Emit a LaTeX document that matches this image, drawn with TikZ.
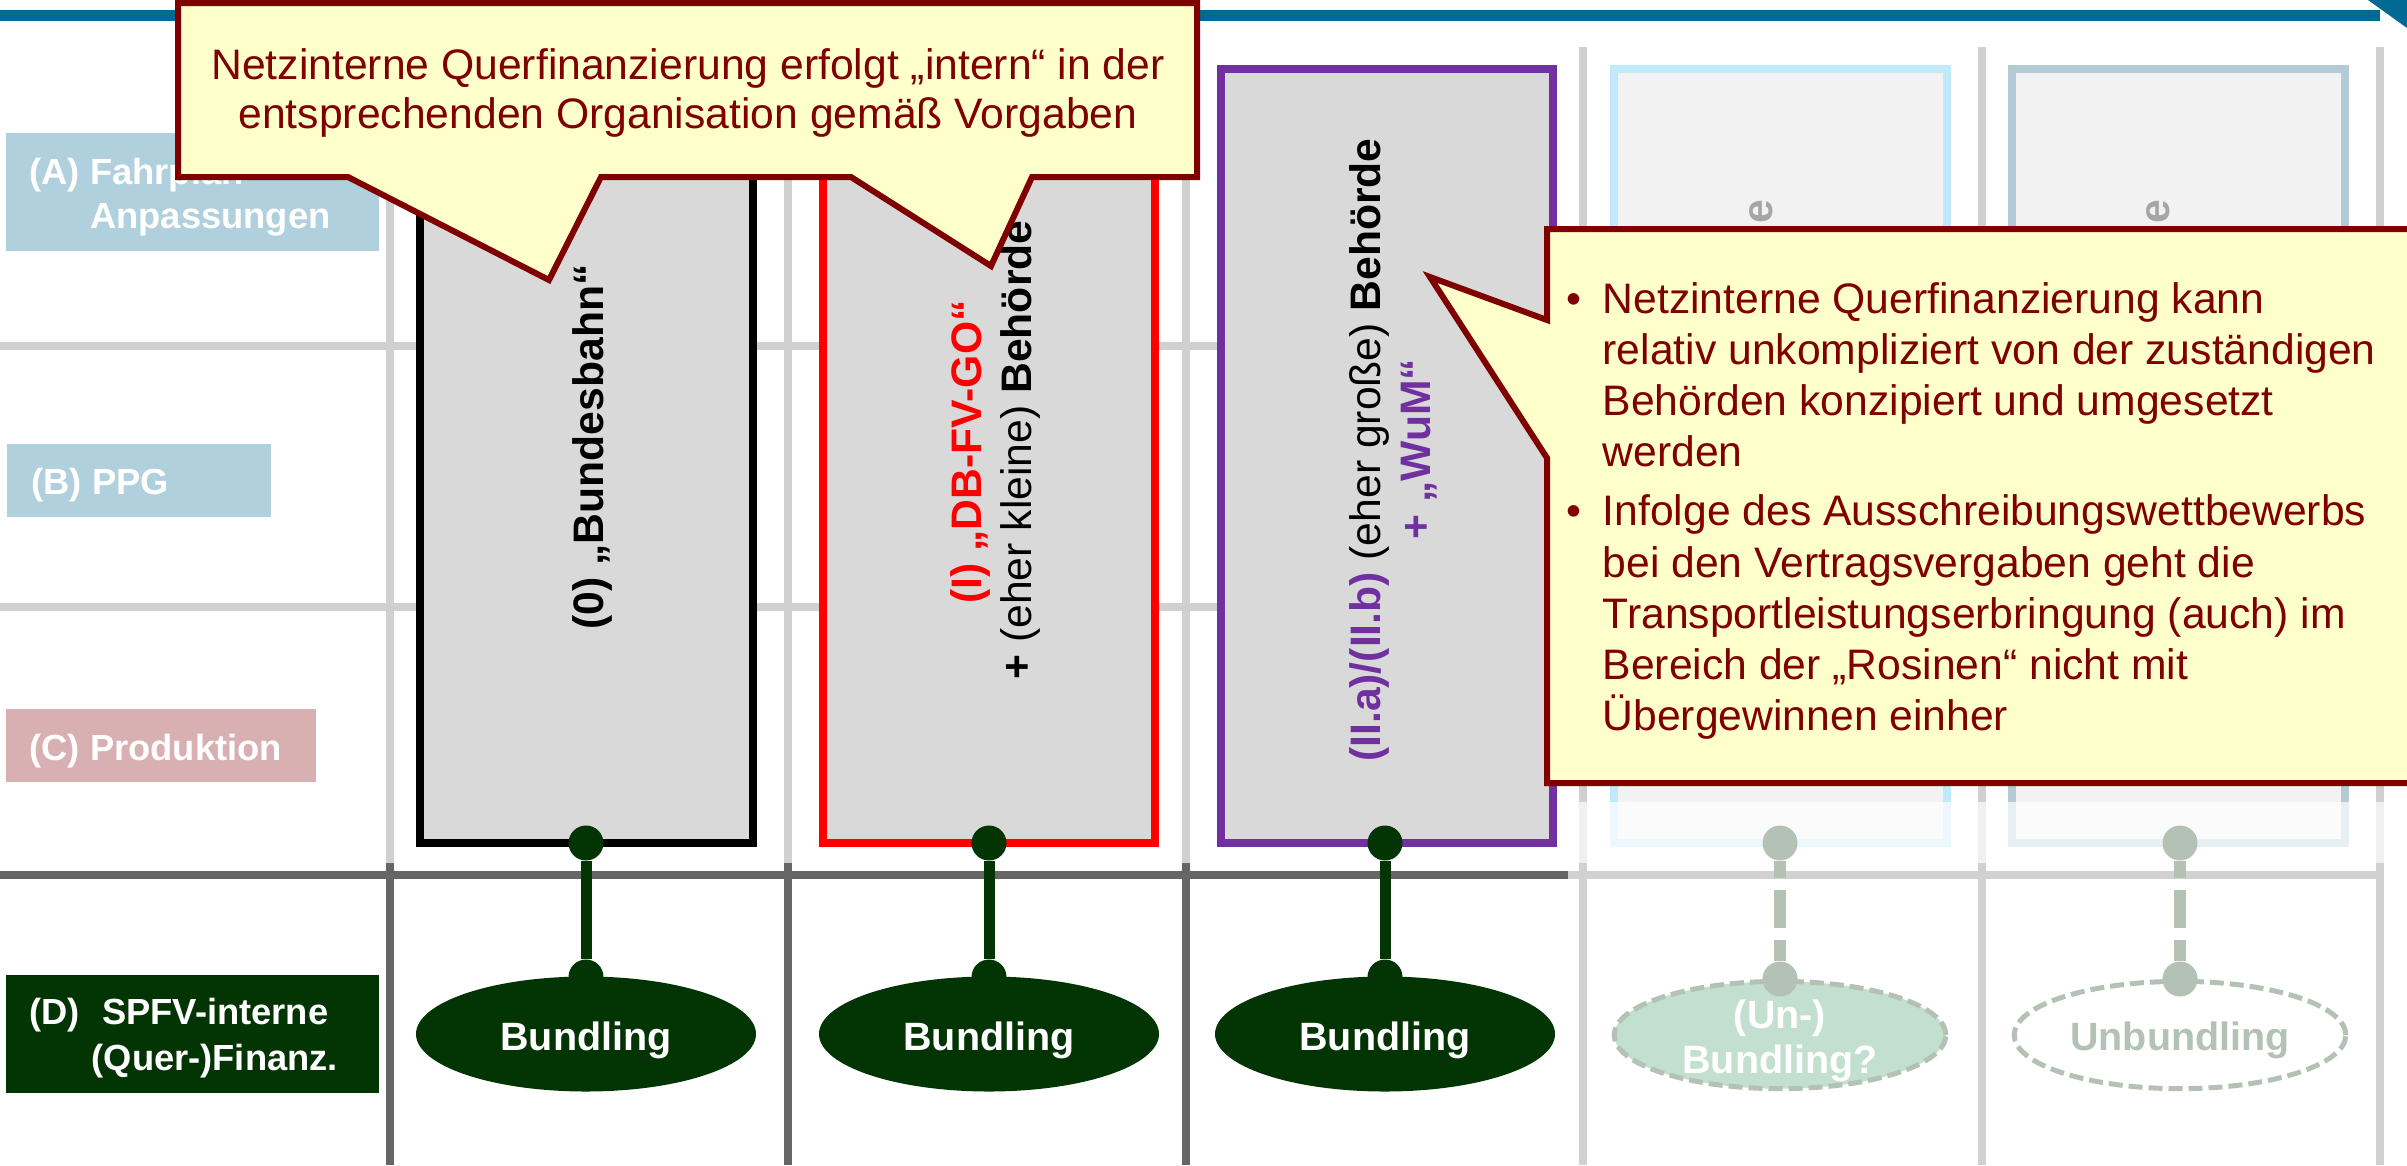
\documentclass[tikz,border=0pt]{standalone}
\usepackage{fontspec}
\setmainfont{Liberation Sans}
\usetikzlibrary{shapes.geometric}

\definecolor{barblue}{RGB}{0,106,148}
\definecolor{rowblue}{RGB}{176,208,222}
\definecolor{rowpink}{RGB}{216,176,178}
\definecolor{darkgreen}{RGB}{3,52,4}
\definecolor{midgreen}{RGB}{52,148,98}
\definecolor{gridlight}{RGB}{208,208,208}
\definecolor{griddark}{RGB}{102,102,102}
\definecolor{boxgray}{RGB}{217,217,217}
\definecolor{boxpale}{RGB}{242,242,242}
\definecolor{mypurple}{RGB}{112,48,160}
\definecolor{paleblue}{RGB}{192,234,250}
\definecolor{palesteel}{RGB}{180,202,212}
\definecolor{notered}{RGB}{128,0,0}
\definecolor{noteyellow}{RGB}{255,255,204}
\definecolor{ghost}{RGB}{166,166,166}

\newcommand\fmain{\fontsize{12.8}{15}\selectfont}
\newcommand\flabel{\fontsize{10.9}{13}\selectfont\bfseries}
\newcommand\fell{\fontsize{11.85}{14}\selectfont\bfseries}

\begin{document}
\begin{tikzpicture}[x=0.3pt,y=-0.3pt,
  gridl/.style={draw=gridlight,line width=2.4pt},
  gridd/.style={draw=griddark,line width=2.4pt},
  rowlabel/.style={anchor=base west,inner sep=0pt,text=white,font=\flabel},
  colbox/.style={fill=boxgray,line width=2.4pt},
  coltext/.style={rotate=90,anchor=base,inner sep=0pt,font=\fmain},
  ellnode/.style={ellipse,minimum width=102pt,minimum height=34.5pt,inner sep=0pt},
  ghostell/.style={ellipse,minimum width=99.5pt,minimum height=32.2pt,inner sep=0pt,
    draw=darkgreen,line width=1.5pt,dash pattern=on 4.2pt off 1.8pt},
  elltext/.style={anchor=base,inner sep=0pt,font=\fell},
  dotnode/.style={circle,minimum size=10.5pt,inner sep=0pt,fill=darkgreen},
  conn/.style={draw=darkgreen,line width=3.3pt},
  dashconn/.style={draw=darkgreen,line width=3.6pt,dash pattern=on 11.4pt off 3.6pt,dash phase=6.3pt},
  callout/.style={fill=noteyellow,draw=notered,line width=1.8pt,line join=miter},
  notetext/.style={anchor=base west,inner sep=0pt,text=notered,font=\fmain}]

\useasboundingbox (0,0) rectangle (2407,1165);

% grid of rows and columns
\foreach \x in {390,788,1186,1583,1982,2380} {
  \draw[gridl] (\x,47) -- (\x,863);
  \draw[gridd] (\x,863) -- (\x,1165);
}
\draw[gridl] (0,346) -- (2384,346);
\draw[gridl] (0,607) -- (2384,607);
\draw[gridd] (0,875) -- (2384,875);

% title bar
\fill[barblue] (0,10) rectangle (2380,21);
\fill[barblue] (2368,0) -- (2407,0) -- (2407,28) -- cycle;

% row labels
\fill[rowblue] (6,133) rectangle (379,251);
\node[rowlabel] (la1) at (29,184) {(A) Fahrplan};
\node[rowlabel] (la2) at (29,228) {\phantom{(A) }Anpassungen};
\fill[rowblue] (7,444) rectangle (271,517);
\node[rowlabel] (lb) at (31,494) {(B) PPG};
\fill[rowpink] (6,709) rectangle (316,782);
\node[rowlabel] (lc) at (29,760) {(C) Produktion};
\fill[darkgreen] (6,975) rectangle (379,1093);
\node[rowlabel] (ld1) at (29,1024) {(D)\hspace{6.6pt}SPFV-interne};
\node[rowlabel] (ld2) at (91,1070) {(Quer-)Finanz.};

% model columns
\draw[colbox,draw=black] (420,69) rectangle (753,843);
\draw[colbox,draw=red] (823,69) rectangle (1155,843);
\draw[colbox,draw=mypurple] (1221,69) rectangle (1553,843);
\draw[colbox,fill=boxpale,draw=paleblue] (1614,69) rectangle (1947,843);
\draw[colbox,fill=boxpale,draw=palesteel] (2012,69) rectangle (2345,843);

\node[coltext,anchor=base east,text=ghost] (g3) at (1772,199) {\bfseries e};
\node[coltext,anchor=base east,text=ghost] (g4) at (2169,199) {\bfseries e};

\node[coltext] (t0) at (603,447) {\bfseries (0) „Bundesbahn“};
\node[coltext,text=red] (t1a) at (981,452) {\bfseries (I) „DB-FV-GO“};
\node[coltext] (t1b) at (1031,450) {\textbf{+} (eher kleine) \textbf{Behörde}};
\node[coltext] (t2a) at (1380,450) {\textcolor{mypurple}{\bfseries (II.a)/(II.b)} (eher große) \textbf{Behörde}};
\node[coltext,text=mypurple] (t2b) at (1430,449) {\bfseries + „WuM“};

% financing ellipses
\node[ellnode,fill=darkgreen] (e0) at (586,1034) {};
\node[elltext,text=white] (b0) at (586,1050) {Bundling};
\node[ellnode,fill=darkgreen] (e1) at (989,1034) {};
\node[elltext,text=white] (b1) at (989,1050) {Bundling};
\node[ellnode,fill=darkgreen] (e2) at (1385,1034) {};
\node[elltext,text=white] (b2) at (1385,1050) {Bundling};
\node[ghostell,fill=midgreen] (e3) at (1780,1035) {};
\node[elltext,text=white] (b3a) at (1780,1028) {(Un-)};
\node[elltext,text=white] (b3b) at (1780,1073) {Bundling?};
\node[ghostell,fill=white] (e4) at (2180,1035) {};
\node[elltext,text=darkgreen] (b4) at (2180,1050) {Unbundling};

% links from columns to ellipses
\node[dotnode] (p0t) at (586,843) {};
\node[dotnode] (p0b) at (586,977) {};
\draw[conn] (p0t) -- (p0b);
\node[dotnode] (p1t) at (989,843) {};
\node[dotnode] (p1b) at (989,977) {};
\draw[conn] (p1t) -- (p1b);
\node[dotnode] (p2t) at (1385,843) {};
\node[dotnode] (p2b) at (1385,977) {};
\draw[conn] (p2t) -- (p2b);
\node[dotnode] (p3t) at (1780,843) {};
\node[dotnode] (p3b) at (1780,979) {};
\draw[dashconn] (p3t) -- (p3b);
\node[dotnode] (p4t) at (2180,843) {};
\node[dotnode] (p4b) at (2180,979) {};
\draw[dashconn] (p4t) -- (p4b);

% veil over the last two columns of row D
\fill[white,fill opacity=0.7] (1568,802) rectangle (2407,1165);

% upper note
\draw[callout] (178,3) -- (1197,3) -- (1197,177) -- (1032,177) -- (991,266)
  -- (851,177) -- (601,177) -- (549,280) -- (348,177) -- (178,177) -- cycle;
\node[notetext,anchor=base] (n1) at (688,79) {Netzinterne Querfinanzierung erfolgt „intern“ in der};
\node[notetext,anchor=base] (n2) at (688,128) {entsprechenden Organisation gemäß Vorgaben};

% right note
\draw[callout] (1547,229) -- (2412,229) -- (2412,783) -- (1547,783) -- (1547,458)
  -- (1430,277) -- (1547,320) -- cycle;
\node[notetext] (k0) at (1566,313) {•};
\node[notetext] (k1) at (1602,313) {Netzinterne Querfinanzierung kann};
\node[notetext] (k2) at (1602,364) {relativ unkompliziert von der zuständigen};
\node[notetext] (k3) at (1602,415) {Behörden konzipiert und umgesetzt};
\node[notetext] (k4) at (1602,466) {werden};
\node[notetext] (k5) at (1566,525) {•};
\node[notetext] (k6) at (1602,525) {Infolge des Ausschreibungswettbewerbs};
\node[notetext] (k7) at (1602,577) {bei den Vertragsvergaben geht die};
\node[notetext] (k8) at (1602,628) {Transportleistungserbringung (auch) im};
\node[notetext] (k9) at (1602,679) {Bereich der „Rosinen“ nicht mit};
\node[notetext] (k10) at (1602,730) {Übergewinnen einher};

\end{tikzpicture}
\end{document}
